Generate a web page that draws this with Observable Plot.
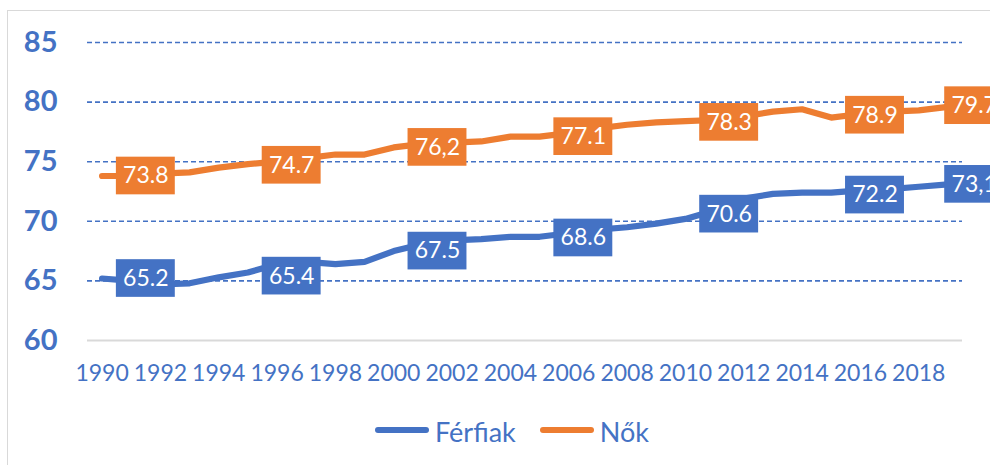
<!DOCTYPE html>
<html>
<head>
<meta charset="utf-8">
<script src="https://cdn.jsdelivr.net/npm/d3@7"></script>
<script src="https://cdn.jsdelivr.net/npm/@observablehq/plot@0.6"></script>
<style>
  html, body { margin: 0; padding: 0; background: #fff; width: 990px; height: 465px; overflow: hidden; }
  #chart { position: absolute; left: 0; top: 0; }
  #frame { position: absolute; left: 7px; top: 10px; width: 1000px; height: 500px; border: 1px solid #d9d9d9; box-sizing: border-box; pointer-events: none; }
  #legend { position: absolute; left: 375px; top: 416px; display: flex; align-items: center; font-family: Lato, sans-serif; font-size: 27px; color: #4472C4; line-height: 32px; white-space: nowrap; }
  .sw { display: inline-block; width: 54px; height: 6px; border-radius: 3px; margin-right: 6px; margin-top: -4px; }
  .item { display: flex; align-items: center; margin-right: 24px; }
</style>
</head>
<body>
<div id="chart"></div>
<div id="frame"></div>
<div id="legend"></div>
<script>
const BLUE = "#4472C4";
const ORANGE = "#ED7D31";

// Years (categories)
const years = [1990,1991,1992,1993,1994,1995,1996,1997,1998,1999,
               2000,2001,2002,2003,2004,2005,2006,2007,2008,2009,
               2010,2011,2012,2013,2014,2015,2016,2017,2018,2019];
// Férfiak (men) life expectancy
const men = [65.2,65.0,64.7,64.8,65.3,65.7,66.4,66.6,66.4,66.6,
             67.5,68.1,68.4,68.5,68.7,68.7,69.0,69.3,69.5,69.8,
             70.2,70.9,71.9,72.3,72.4,72.4,72.6,72.7,72.9,73.1];
// Nők (women) life expectancy
const women = [73.8,73.8,74.0,74.1,74.5,74.8,75.0,75.3,75.6,75.6,
               76.2,76.5,76.6,76.7,77.1,77.1,77.4,77.8,78.1,78.3,
               78.4,78.5,78.8,79.2,79.4,78.7,79.0,79.2,79.3,79.6];

// Data label positions (on the year scale) and texts
const labelYears = [1991.5, 1996.5, 2001.5, 2006.5, 2011.5, 2016.5, 2019.9];
const menLabels = ["65.2", "65.4", "67.5", "68.6", "70.6", "72.2", "73,1"];
const womenLabels = ["73.8", "74.7", "76,2", "77.1", "78.3", "78.9", "79.7"];

// Axis ticks
const xTicks = [1990,1992,1994,1996,1998,2000,2002,2004,2006,2008,2010,2012,2014,2016,2018];
const yTicks = [60, 65, 70, 75, 80, 85];
const gridValues = [65, 70, 75, 80, 85];

const seriesNames = ["Férfiak", "Nők"];

const lineData = years.flatMap((yr, i) => [
  {year: yr, value: men[i], series: seriesNames[0]},
  {year: yr, value: women[i], series: seriesNames[1]}
]);
const labelData = labelYears.flatMap((yr, i) => [
  {year: yr, text: menLabels[i], value: +menLabels[i].replace(",", "."), series: seriesNames[0]},
  {year: yr, text: womenLabels[i], value: +womenLabels[i].replace(",", "."), series: seriesNames[1]}
]);
const colorOf = s => s === seriesNames[0] ? BLUE : ORANGE;

const chart = Plot.plot({
  width: 990,
  height: 400,
  marginLeft: 87,
  marginRight: 28,
  marginTop: 42,
  marginBottom: 60,
  style: {fontFamily: "Lato, sans-serif", background: "transparent", overflow: "visible"},
  x: {domain: [1989.5, 2019.5], label: null},
  y: {domain: [60, 85], label: null},
  marks: [
    Plot.ruleY(gridValues, {stroke: BLUE, strokeWidth: 1.6, strokeDasharray: "5,3"}),
    Plot.ruleY([60], {stroke: "#d9d9d9", strokeWidth: 2.2}),
    Plot.axisY({ticks: yTicks, tickSize: 0, tickPadding: 30, fontSize: 29, fontWeight: "bold", color: BLUE, label: null, tickFormat: d => String(d)}),
    Plot.axisX({ticks: xTicks, tickSize: 0, tickPadding: 24, fontSize: 23, color: BLUE, label: null, tickFormat: d => String(d)}),
    Plot.line(lineData, {x: "year", y: "value", z: "series", stroke: d => colorOf(d.series), strokeWidth: 6.2, strokeLinejoin: "round", strokeLinecap: "round"}),
    Plot.rect(labelData, {x1: d => d.year - 1.01, x2: d => d.year + 1.01, y1: d => d.value - 1.58, y2: d => d.value + 1.58, fill: d => colorOf(d.series)}),
    Plot.text(labelData, {x: "year", y: "value", text: "text", fill: "white", fontSize: 23})
  ]
});
document.getElementById("chart").appendChild(chart);

const legend = document.getElementById("legend");
seriesNames.forEach(name => {
  const item = document.createElement("div");
  item.className = "item";
  const sw = document.createElement("span");
  sw.className = "sw";
  sw.style.background = colorOf(name);
  const t = document.createElement("span");
  t.textContent = name;
  item.appendChild(sw);
  item.appendChild(t);
  legend.appendChild(item);
});
</script>
</body>
</html>
